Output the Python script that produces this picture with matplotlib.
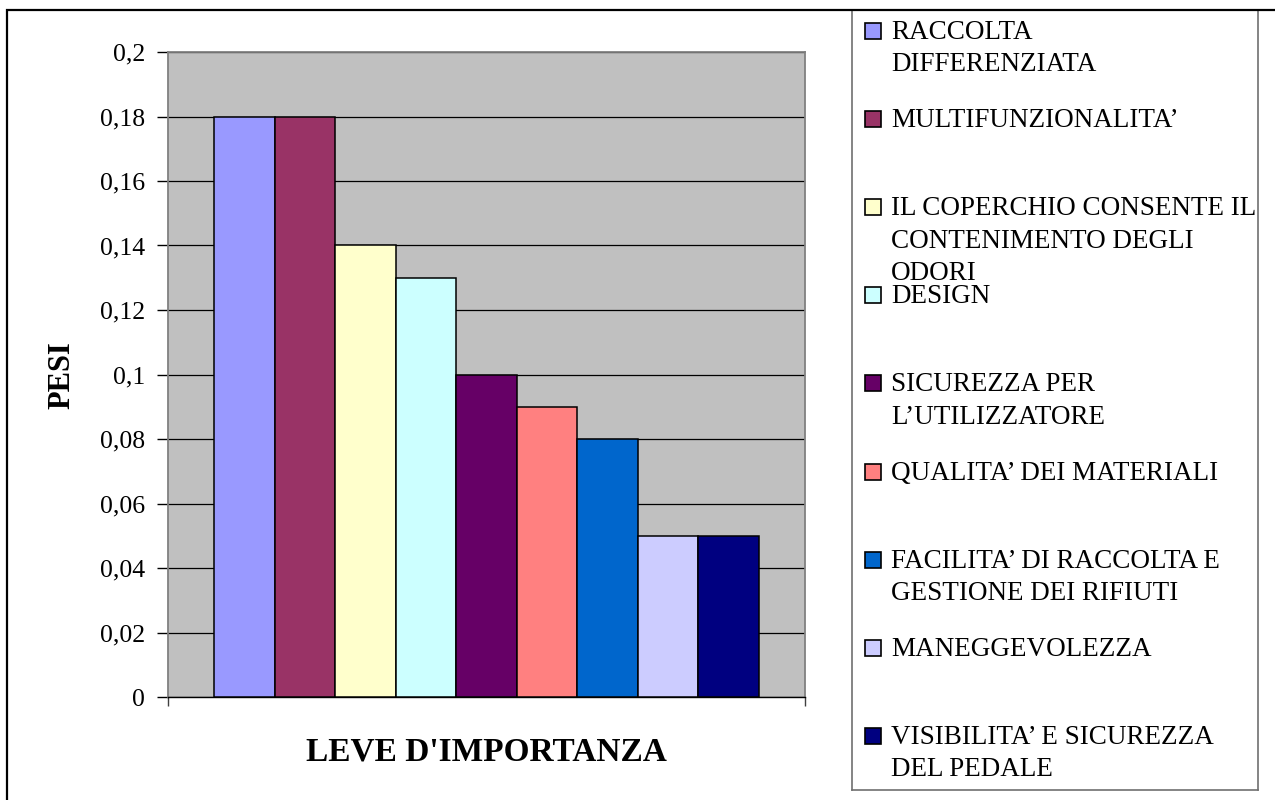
import numpy as np
import matplotlib
matplotlib.use("Agg")
from matplotlib import pyplot as plt
from matplotlib.patches import Rectangle
from matplotlib.ticker import FuncFormatter

plt.rcParams["font.family"] = ["Liberation Serif", "DejaVu Serif"]

LABELS = [
    "RACCOLTA\nDIFFERENZIATA",
    "MULTIFUNZIONALITA’",
    "IL COPERCHIO CONSENTE IL\nCONTENIMENTO DEGLI\nODORI",
    "DESIGN",
    "SICUREZZA PER\nL’UTILIZZATORE",
    "QUALITA’ DEI MATERIALI",
    "FACILITA’ DI RACCOLTA E\nGESTIONE DEI RIFIUTI",
    "MANEGGEVOLEZZA",
    "VISIBILITA’ E SICUREZZA\nDEL PEDALE",
]
PESI = [0.18, 0.18, 0.14, 0.13, 0.10, 0.09, 0.08, 0.05, 0.05]
COLORS = ["#9999FF", "#993366", "#FFFFCC", "#CCFFFF", "#660066",
          "#FF8080", "#0066CC", "#CCCCFF", "#000080"]
Y_TICKS = [0, 0.02, 0.04, 0.06, 0.08, 0.1, 0.12, 0.14, 0.16, 0.18, 0.2]

XLABEL = "LEVE D'IMPORTANZA"
YLABEL = "PESI"


def comma_fmt(v, pos):
    return f"{v:g}".replace(".", ",")


def main():
    W, H = 1275, 800
    fig = plt.figure(figsize=(W / 100, H / 100), dpi=100)

    # plot area
    ax = fig.add_axes([168 / W, 1 - 697 / H, 637 / W, 645 / H])
    ax.set_facecolor("#C0C0C0")
    x = np.arange(len(PESI))
    ax.bar(x, PESI, width=1.0, color=COLORS, edgecolor="black", linewidth=1.1, zorder=3)

    xmin, xmax = -1.26, len(PESI) - 1 + 1.26
    ax.set_xlim(xmin, xmax)
    ax.set_ylim(0, 0.2)
    ax.set_yticks(Y_TICKS)
    ax.yaxis.set_major_formatter(FuncFormatter(comma_fmt))
    ax.set_xticks([xmin, xmax])
    ax.set_xticklabels([])
    ax.tick_params(axis="y", direction="out", length=8, width=1, color="black",
                   labelsize=18.5, pad=8.5)
    ax.tick_params(axis="x", direction="out", length=6.5, width=1, color="#404040")
    ax.grid(axis="y", color="black", linewidth=0.9, zorder=1)
    ax.set_axisbelow(True)
    for side in ("left", "right", "top"):
        ax.spines[side].set_color("#808080")
        ax.spines[side].set_linewidth(1.3)
    ax.spines["bottom"].set_color("black")
    ax.spines["bottom"].set_linewidth(1.0)

    fig.text(486 / W, 1 - 752 / H, XLABEL, ha="center", va="center",
             fontsize=24, fontweight="bold")
    fig.text(62 / W, 1 - 375 / H, YLABEL, ha="center", va="center",
             fontsize=22, fontweight="bold", rotation=90)

    # legend box, laid out in pixel units from its top-left corner
    lw_px, lh_px = 406, 780
    lax = fig.add_axes([852 / W, 1 - 790 / H, lw_px / W, lh_px / H])
    lax.set_xlim(0, lw_px)
    lax.set_ylim(lh_px, 0)
    lax.set_xticks([])
    lax.set_yticks([])
    for s in lax.spines.values():
        s.set_color("#707070")
        s.set_linewidth(1.2)
    step = 88.1
    for i, (lab, col) in enumerate(zip(LABELS, COLORS)):
        yc = 21 + i * step
        lax.add_patch(Rectangle((13, yc - 8), 16, 16, facecolor=col,
                                edgecolor="black", linewidth=1.2))
        lax.text(39, yc - 11, lab, ha="left", va="top", fontsize=19.5,
                 linespacing=1.39)

    # outer chart frame
    fig.patches.append(Rectangle((7 / W, -0.05), 1.2, 1 - 10 / H + 0.05,
                                 transform=fig.transFigure, fill=False,
                                 edgecolor="black", linewidth=1.6))

    fig.savefig("out.png", dpi=100)
    plt.close(fig)


if __name__ == '__main__':
    main()
